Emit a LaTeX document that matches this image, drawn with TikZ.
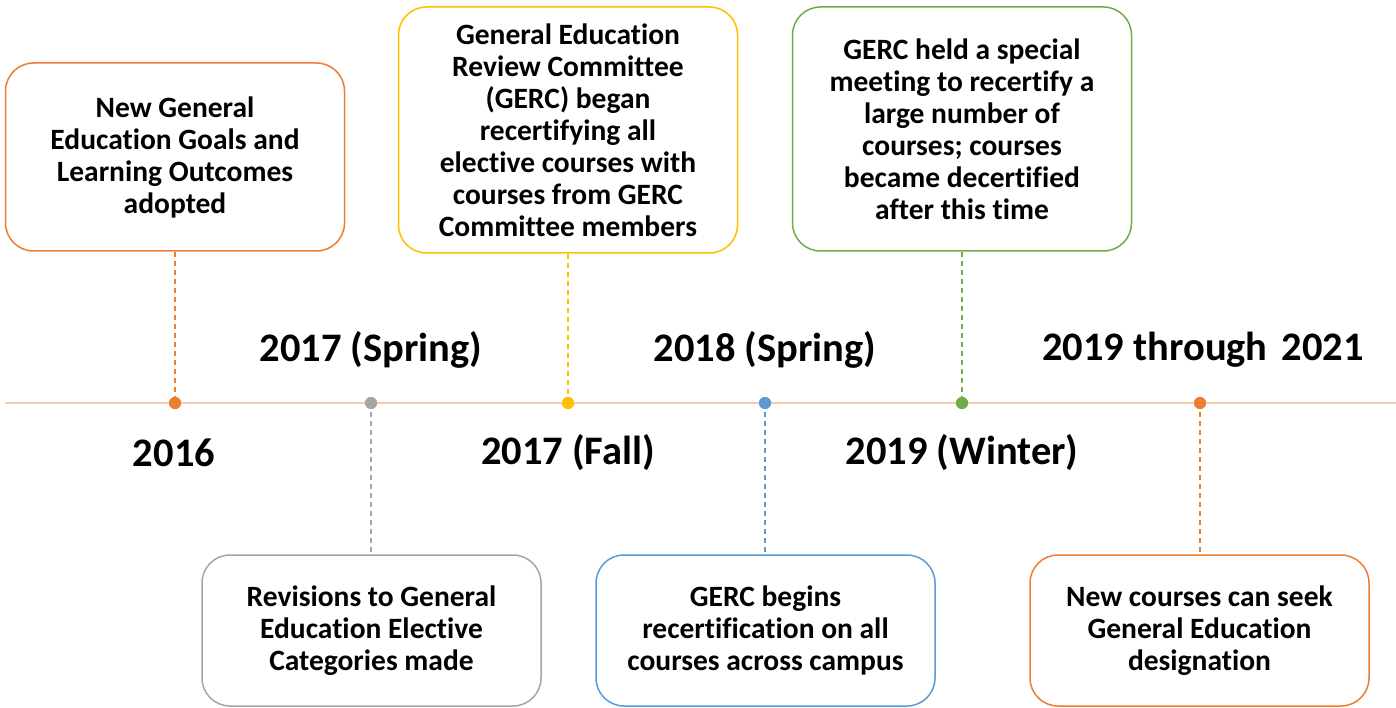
\documentclass[tikz,border=0pt]{standalone}
\usepackage{fontspec}
\setmainfont{Carlito}[Ligatures={NoCommon}]
\definecolor{cOrange}{HTML}{ED7D31}
\definecolor{cGray}{HTML}{A5A5A5}
\definecolor{cYellow}{HTML}{FFC000}
\definecolor{cBlue}{HTML}{5B9BD5}
\definecolor{cGreen}{HTML}{70AD47}
\definecolor{cLine}{HTML}{F8CBAD}
\begin{document}
\begin{tikzpicture}[x=1pt,y=-1pt,
  box/.style={draw=#1, line width=1.5pt, rounded corners=28pt, fill=white, align=center,
    font=\bfseries\fontsize{29.5}{32}\selectfont, inner sep=0pt, minimum width=339pt},
  dot/.style={circle, fill=#1, inner sep=0pt, minimum size=12pt},
  conn/.style={draw=#1, line width=1.4pt, dashed, dash pattern=on 5pt off 4pt},
  year/.style={font=\bfseries\fontsize{40.5}{46}\selectfont, inner sep=0pt}]
\useasboundingbox (0,0) rectangle (1396,708);
\fill[white] (0,0) rectangle (1396,708);
% timeline
\coordinate (tl) at (5,403);
\coordinate (tr) at (1396,403);
\draw[cLine, line width=2pt] (tl) -- (tr);
% boxes
\node[box=cOrange, minimum height=188pt] (b1) at (175,157) {New General\\Education Goals and\\Learning Outcomes\\adopted};
\node[box=cYellow, minimum height=246pt] (b3) at (568,130) {General Education\\Review Committee\\(GERC) began\\recertifying all\\elective courses with\\courses from GERC\\Committee members};
\node[box=cGreen, minimum height=244pt] (b5) at (962,129) {GERC held a special\\meeting to recertify a\\large number of\\courses; courses\\became decertified\\after this time};
\node[box=cGray, minimum height=151pt] (b2) at (371.5,630.5) {Revisions to General\\Education Elective\\Categories made};
\node[box=cBlue, minimum height=151pt] (b4) at (765.5,630.5) {GERC begins\\recertification on all\\courses across campus};
\node[box=cOrange, minimum height=151pt] (b6) at (1199.5,630.5) {New courses can seek\\General Education\\designation};
% dots
\node[dot=cOrange] (d1) at (175,403) {};
\node[dot=cGray] (d2) at (371,403) {};
\node[dot=cYellow] (d3) at (568,403) {};
\node[dot=cBlue] (d4) at (765,403) {};
\node[dot=cGreen] (d5) at (962,403) {};
\node[dot=cOrange] (d6) at (1200,403) {};
% connectors
\draw[conn=cOrange] (b1.south) -- (d1.center);
\draw[conn=cGray] (d2.center) -- (d2.center |- b2.north);
\draw[conn=cYellow] (b3.south) -- (d3.center);
\draw[conn=cBlue] (d4.center) -- (d4.center |- b4.north);
\draw[conn=cGreen] (b5.south) -- (d5.center);
\draw[conn=cOrange] (d6.center) -- (d6.center |- b6.north);
% redraw dots on top
\foreach \n/\c in {d1/cOrange,d2/cGray,d3/cYellow,d4/cBlue,d5/cGreen,d6/cOrange}
  \fill[\c] (\n.center) circle (6pt);
% years
\node[year] (y1) at (174,453) {2016};
\node[year] (y2) at (371,350) {2017 (Spring)};
\node[year] (y3) at (568,453) {2017 (Fall)};
\node[year] (y4) at (765,350) {2018 (Spring)};
\node[year] (y5) at (962,453) {2019 (Winter)};
\node[year] (y6) at (1203,350) {2019 through\hspace{0.12em} 2021};
\end{tikzpicture}
\end{document}
